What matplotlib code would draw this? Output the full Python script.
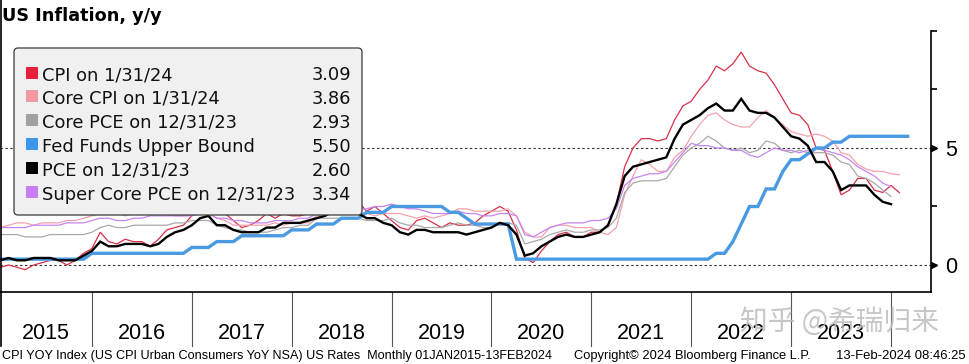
import numpy as np
import matplotlib
matplotlib.use("Agg")
import matplotlib.pyplot as plt
import matplotlib.transforms as mtransforms
from matplotlib.patches import FancyBboxPatch, Rectangle
from matplotlib.lines import Line2D

# ---------------- data (monthly, starting Jan 2015) ----------------
start_year = 2015
cpi = [
    -0.1, 0.0, -0.1, -0.2, 0.0, 0.1, 0.2, 0.2, 0.0, 0.2, 0.5, 0.7,
    1.4, 1.0, 0.9, 1.1, 1.0, 1.0, 0.8, 1.1, 1.5, 1.6, 1.7, 2.1,
    2.5, 2.7, 2.4, 2.2, 1.9, 1.6, 1.7, 1.9, 2.2, 2.0, 2.2, 2.1,
    2.1, 2.2, 2.4, 2.5, 2.8, 2.9, 2.9, 2.7, 2.3, 2.5, 2.2, 1.9,
    1.6, 1.5, 1.9, 2.0, 1.8, 1.6, 1.8, 1.7, 1.7, 1.8, 2.1, 2.3,
    2.5, 2.3, 1.5, 0.3, 0.1, 0.6, 1.0, 1.3, 1.4, 1.2, 1.2, 1.4,
    1.4, 1.7, 2.6, 4.2, 5.0, 5.4, 5.4, 5.3, 5.4, 6.2, 6.8, 7.0,
    7.5, 7.9, 8.5, 8.3, 8.6, 9.1, 8.5, 8.3, 8.2, 7.7, 7.1, 6.5,
    6.4, 6.0, 5.0, 4.9, 4.0, 3.0, 3.2, 3.7, 3.7, 3.2, 3.1, 3.4,
    3.09]
core_cpi = [
    1.6, 1.7, 1.8, 1.8, 1.7, 1.8, 1.8, 1.8, 1.9, 1.9, 2.0, 2.1,
    2.2, 2.3, 2.2, 2.1, 2.2, 2.2, 2.2, 2.3, 2.2, 2.1, 2.1, 2.2,
    2.3, 2.2, 2.0, 1.9, 1.7, 1.7, 1.7, 1.7, 1.7, 1.8, 1.7, 1.8,
    1.8, 1.8, 2.1, 2.1, 2.2, 2.3, 2.4, 2.2, 2.2, 2.1, 2.2, 2.2,
    2.2, 2.1, 2.0, 2.1, 2.0, 2.1, 2.2, 2.4, 2.4, 2.3, 2.3, 2.3,
    2.3, 2.4, 2.1, 1.4, 1.2, 1.2, 1.6, 1.7, 1.7, 1.6, 1.6, 1.6,
    1.4, 1.3, 1.6, 3.0, 3.8, 4.5, 4.3, 4.0, 4.0, 4.6, 4.9, 5.5,
    6.0, 6.4, 6.5, 6.2, 6.0, 5.9, 5.9, 6.3, 6.6, 6.3, 6.0, 5.7,
    5.6, 5.5, 5.6, 5.5, 5.3, 4.8, 4.7, 4.3, 4.1, 4.0, 4.0, 3.9,
    3.86]
core_pce = [
    1.3, 1.3, 1.3, 1.2, 1.2, 1.2, 1.3, 1.3, 1.3, 1.3, 1.3, 1.4,
    1.6, 1.7, 1.6, 1.6, 1.7, 1.7, 1.7, 1.7, 1.7, 1.8, 1.8, 1.9,
    1.9, 1.9, 1.7, 1.6, 1.5, 1.5, 1.4, 1.4, 1.4, 1.5, 1.6, 1.6,
    1.7, 1.7, 2.0, 2.0, 2.0, 2.0, 2.0, 2.0, 1.9, 1.9, 1.9, 2.0,
    1.8, 1.7, 1.7, 1.6, 1.6, 1.6, 1.7, 1.8, 1.7, 1.7, 1.6, 1.6,
    1.8, 1.8, 1.7, 0.9, 1.0, 1.1, 1.3, 1.4, 1.5, 1.4, 1.4, 1.5,
    1.5, 1.6, 2.0, 3.1, 3.5, 3.6, 3.6, 3.6, 3.7, 4.2, 4.7, 5.0,
    5.2, 5.5, 5.3, 5.0, 4.9, 5.0, 4.8, 4.9, 5.3, 5.2, 4.9, 4.8,
    4.9, 4.8, 4.8, 4.8, 4.7, 4.4, 4.3, 3.8, 3.7, 3.5, 3.2, 2.93]
fed_funds = [
    0.25, 0.25, 0.25, 0.25, 0.25, 0.25, 0.25, 0.25, 0.25, 0.25, 0.25, 0.5,
    0.5, 0.5, 0.5, 0.5, 0.5, 0.5, 0.5, 0.5, 0.5, 0.5, 0.5, 0.75,
    0.75, 0.75, 1.0, 1.0, 1.0, 1.25, 1.25, 1.25, 1.25, 1.25, 1.25, 1.5,
    1.5, 1.5, 1.75, 1.75, 1.75, 2.0, 2.0, 2.0, 2.25, 2.25, 2.25, 2.5,
    2.5, 2.5, 2.5, 2.5, 2.5, 2.5, 2.25, 2.25, 2.0, 1.75, 1.75, 1.75,
    1.75, 1.75, 0.25, 0.25, 0.25, 0.25, 0.25, 0.25, 0.25, 0.25, 0.25, 0.25,
    0.25, 0.25, 0.25, 0.25, 0.25, 0.25, 0.25, 0.25, 0.25, 0.25, 0.25, 0.25,
    0.25, 0.25, 0.5, 0.5, 1.0, 1.75, 2.5, 2.5, 3.25, 3.25, 4.0, 4.5,
    4.5, 4.75, 5.0, 5.0, 5.25, 5.25, 5.5, 5.5, 5.5, 5.5, 5.5, 5.5,
    5.5, 5.5]
pce = [
    0.2, 0.3, 0.2, 0.2, 0.3, 0.3, 0.3, 0.2, 0.2, 0.2, 0.4, 0.6,
    1.0, 0.8, 0.8, 0.9, 0.9, 0.9, 0.8, 0.9, 1.2, 1.4, 1.5, 1.7,
    2.0, 2.1, 1.7, 1.7, 1.5, 1.4, 1.4, 1.4, 1.6, 1.6, 1.8, 1.8,
    1.8, 1.9, 2.0, 2.1, 2.3, 2.3, 2.3, 2.2, 2.0, 2.0, 1.8, 1.7,
    1.4, 1.3, 1.5, 1.5, 1.4, 1.4, 1.4, 1.4, 1.3, 1.4, 1.5, 1.6,
    1.8, 1.7, 1.3, 0.4, 0.5, 0.8, 1.0, 1.2, 1.3, 1.2, 1.2, 1.3,
    1.4, 1.7, 2.6, 3.8, 4.2, 4.3, 4.4, 4.5, 4.6, 5.4, 6.0, 6.2,
    6.4, 6.7, 6.9, 6.6, 6.6, 7.1, 6.6, 6.5, 6.5, 6.3, 5.9, 5.5,
    5.4, 5.1, 4.4, 4.4, 4.0, 3.2, 3.4, 3.4, 3.4, 3.0, 2.7, 2.6]
super_core = [
    1.6, 1.6, 1.6, 1.6, 1.7, 1.7, 1.7, 1.7, 1.8, 1.8, 1.8, 1.9,
    2.0, 2.0, 1.9, 1.9, 2.0, 2.0, 2.1, 2.1, 2.1, 2.1, 2.1, 2.1,
    2.2, 2.2, 2.0, 2.0, 1.9, 1.9, 1.8, 1.8, 1.8, 1.9, 1.9, 1.9,
    2.0, 2.0, 2.2, 2.2, 2.3, 2.3, 2.4, 2.4, 2.4, 2.5, 2.5, 2.6,
    2.5, 2.4, 2.4, 2.3, 2.2, 2.2, 2.2, 2.3, 2.2, 2.2, 2.1, 2.1,
    2.2, 2.2, 2.1, 1.3, 1.2, 1.4, 1.6, 1.7, 1.8, 1.8, 1.8, 1.9,
    1.9, 2.0, 2.4, 3.4, 3.7, 3.8, 3.9, 3.9, 4.0, 4.4, 4.8, 5.2,
    5.1, 5.1, 5.0, 5.0, 4.9, 4.9, 4.7, 4.6, 4.8, 5.0, 4.9, 4.9,
    4.8, 4.9, 5.0, 4.9, 4.8, 4.7, 4.5, 4.2, 4.0, 3.8, 3.5, 3.34]

legend_labels = ["CPI on 1/31/24", "Core CPI on 1/31/24", "Core PCE on 12/31/23",
                 "Fed Funds Upper Bound", "PCE on 12/31/23", "Super Core PCE on 12/31/23"]
legend_values = ["3.09", "3.86", "2.93", "5.50", "2.60", "3.34"]
year_labels = ["2015", "2016", "2017", "2018", "2019", "2020", "2021", "2022", "2023"]
y_ticks = [0, 2.5, 5, 7.5, 10]
y_ticklabels = ["0", "", "5", "", ""]
title = "US Inflation, y/y"
footer_left = "CPI YOY Index (US CPI Urban Consumers YoY NSA) US Rates  Monthly 01JAN2015-13FEB2024"
footer_mid = "Copyright\u00a9 2024 Bloomberg Finance L.P."
footer_right = "13-Feb-2024 08:46:25"
watermark = "知乎 @希瑞归来"

# ---------------- styles ----------------
line_colors = ["#d8304a", "#f2a2ae", "#a9a9a9", "#4a9ae2", "#000000", "#c885ee"]
legend_colors = ["#e8203c", "#f598a6", "#a0a0a0", "#3d96ec", "#000000", "#c77df2"]
line_widths = [0.9, 0.9, 0.9, 2.4, 1.7, 0.9]
series = [cpi, core_cpi, core_pce, fed_funds, pce, super_core]
draw_order = [0, 1, 2, 5, 3, 4]

W, H = 969, 364
fig = plt.figure(figsize=(W / 100, H / 100), dpi=100)
px = mtransforms.Affine2D().scale(1, -1).translate(0, H)  # pixel coords from top-left

ax_l, ax_r, ax_t, ax_b = 0, 931, 31, 292
ax = fig.add_axes([ax_l / W, (H - ax_b) / H, (ax_r - ax_l) / W, (ax_b - ax_t) / H])
ax.set_facecolor("white")

for i in draw_order:
    vals = series[i]
    x = start_year + (np.arange(len(vals)) + 1) / 12.0
    ax.plot(x, vals, color=line_colors[i], lw=line_widths[i], solid_joinstyle="miter", zorder=2 + (i in (3, 4)))

ax.set_xlim(2015.08, 2024.40)
ax.set_ylim(-1.154, 10.0)

for yv in (0, 5):
    ax.axhline(yv, color="#333333", lw=0.8, ls=(0, (2.2, 2.2)), zorder=1)

for s in ("top", "left"):
    ax.spines[s].set_visible(False)
ax.spines["right"].set_linewidth(1.2)
ax.spines["bottom"].set_linewidth(1.2)
ax.set_xticks([])
ax.yaxis.tick_right()
ax.set_yticks(y_ticks)
ax.set_yticklabels(y_ticklabels, fontsize=15.5, family="Liberation Sans")
ax.tick_params(axis="y", direction="out", length=4, width=1.2, pad=6)
ax.plot([1.0035, 1.0035], [0, 5], transform=ax.get_yaxis_transform(), ls="none",
        marker=">", ms=4.5, color="black", clip_on=False, zorder=5)

# year separators and labels
axh = ax_b - ax_t
sep_bottom = -(346 - ax_b) / axh
years_b = list(range(2016, 2025))
for yb in years_b:
    ax.plot([yb, yb], [0, sep_bottom], transform=ax.get_xaxis_transform(),
            color="#555555", lw=0.8, clip_on=False)
lab_y = -(339 - ax_b) / axh
for i, lab in enumerate(year_labels):
    yr = int(lab)
    xc = (2015.08 + 2016) / 2 if i == 0 else yr + 0.5
    ax.text(xc, lab_y, lab, transform=ax.get_xaxis_transform(), ha="center", va="baseline",
            fontsize=15.5, family="Liberation Sans", color="black")

# left border
fig.add_artist(Line2D([0.6, 0.6], [0, 346], transform=px, color="black", lw=1.2))

# title
fig.text(2, 21, title, transform=px, fontsize=12.7, fontweight="bold", family="DejaVu Sans",
         ha="left", va="baseline")

# legend
box = FancyBboxPatch((14, 48), 348, 167, boxstyle="round,pad=0,rounding_size=4",
                     transform=px, facecolor="#f0f0f0", edgecolor="#3a3a3a", lw=0.9, zorder=10)
fig.add_artist(box)
for i, (lab, val) in enumerate(zip(legend_labels, legend_values)):
    base = 80 + 23.9 * i
    fig.add_artist(Rectangle((26, base - 13.5), 12, 12, transform=px, facecolor=legend_colors[i],
                             edgecolor="none", zorder=11))
    fig.text(42, base, lab, transform=px, fontsize=12.9, family="DejaVu Sans", ha="left",
             va="baseline", zorder=12, color="#111111")
    fig.text(351, base, val, transform=px, fontsize=12.9, family="DejaVu Sans", ha="right",
             va="baseline", zorder=12, color="#111111")

# watermark
fig.text(840, 322, watermark, transform=px, fontsize=20, family=["Noto Sans CJK SC", "DejaVu Sans"],
         ha="center", va="center", color="#bdbdbd", alpha=0.85, zorder=20)

# footer (sizes fitted to the measured widths)
foot_fam = ["Liberation Sans Narrow", "Liberation Sans", "DejaVu Sans"]
specs = [(footer_left, 2, "left", 551), (footer_mid, 574, "left", 238), (footer_right, 966, "right", 130)]
texts = []
for s, xx, ha, wt in specs:
    t = fig.text(xx, 359, s, transform=px, fontsize=10, family=foot_fam, ha=ha, va="baseline")
    texts.append((t, wt))
fig.canvas.draw()
r = fig.canvas.get_renderer()
for t, wt in texts:
    w = t.get_window_extent(r).width
    t.set_fontsize(10 * wt / w)

fig.savefig("out.png", dpi=100, facecolor="white")
